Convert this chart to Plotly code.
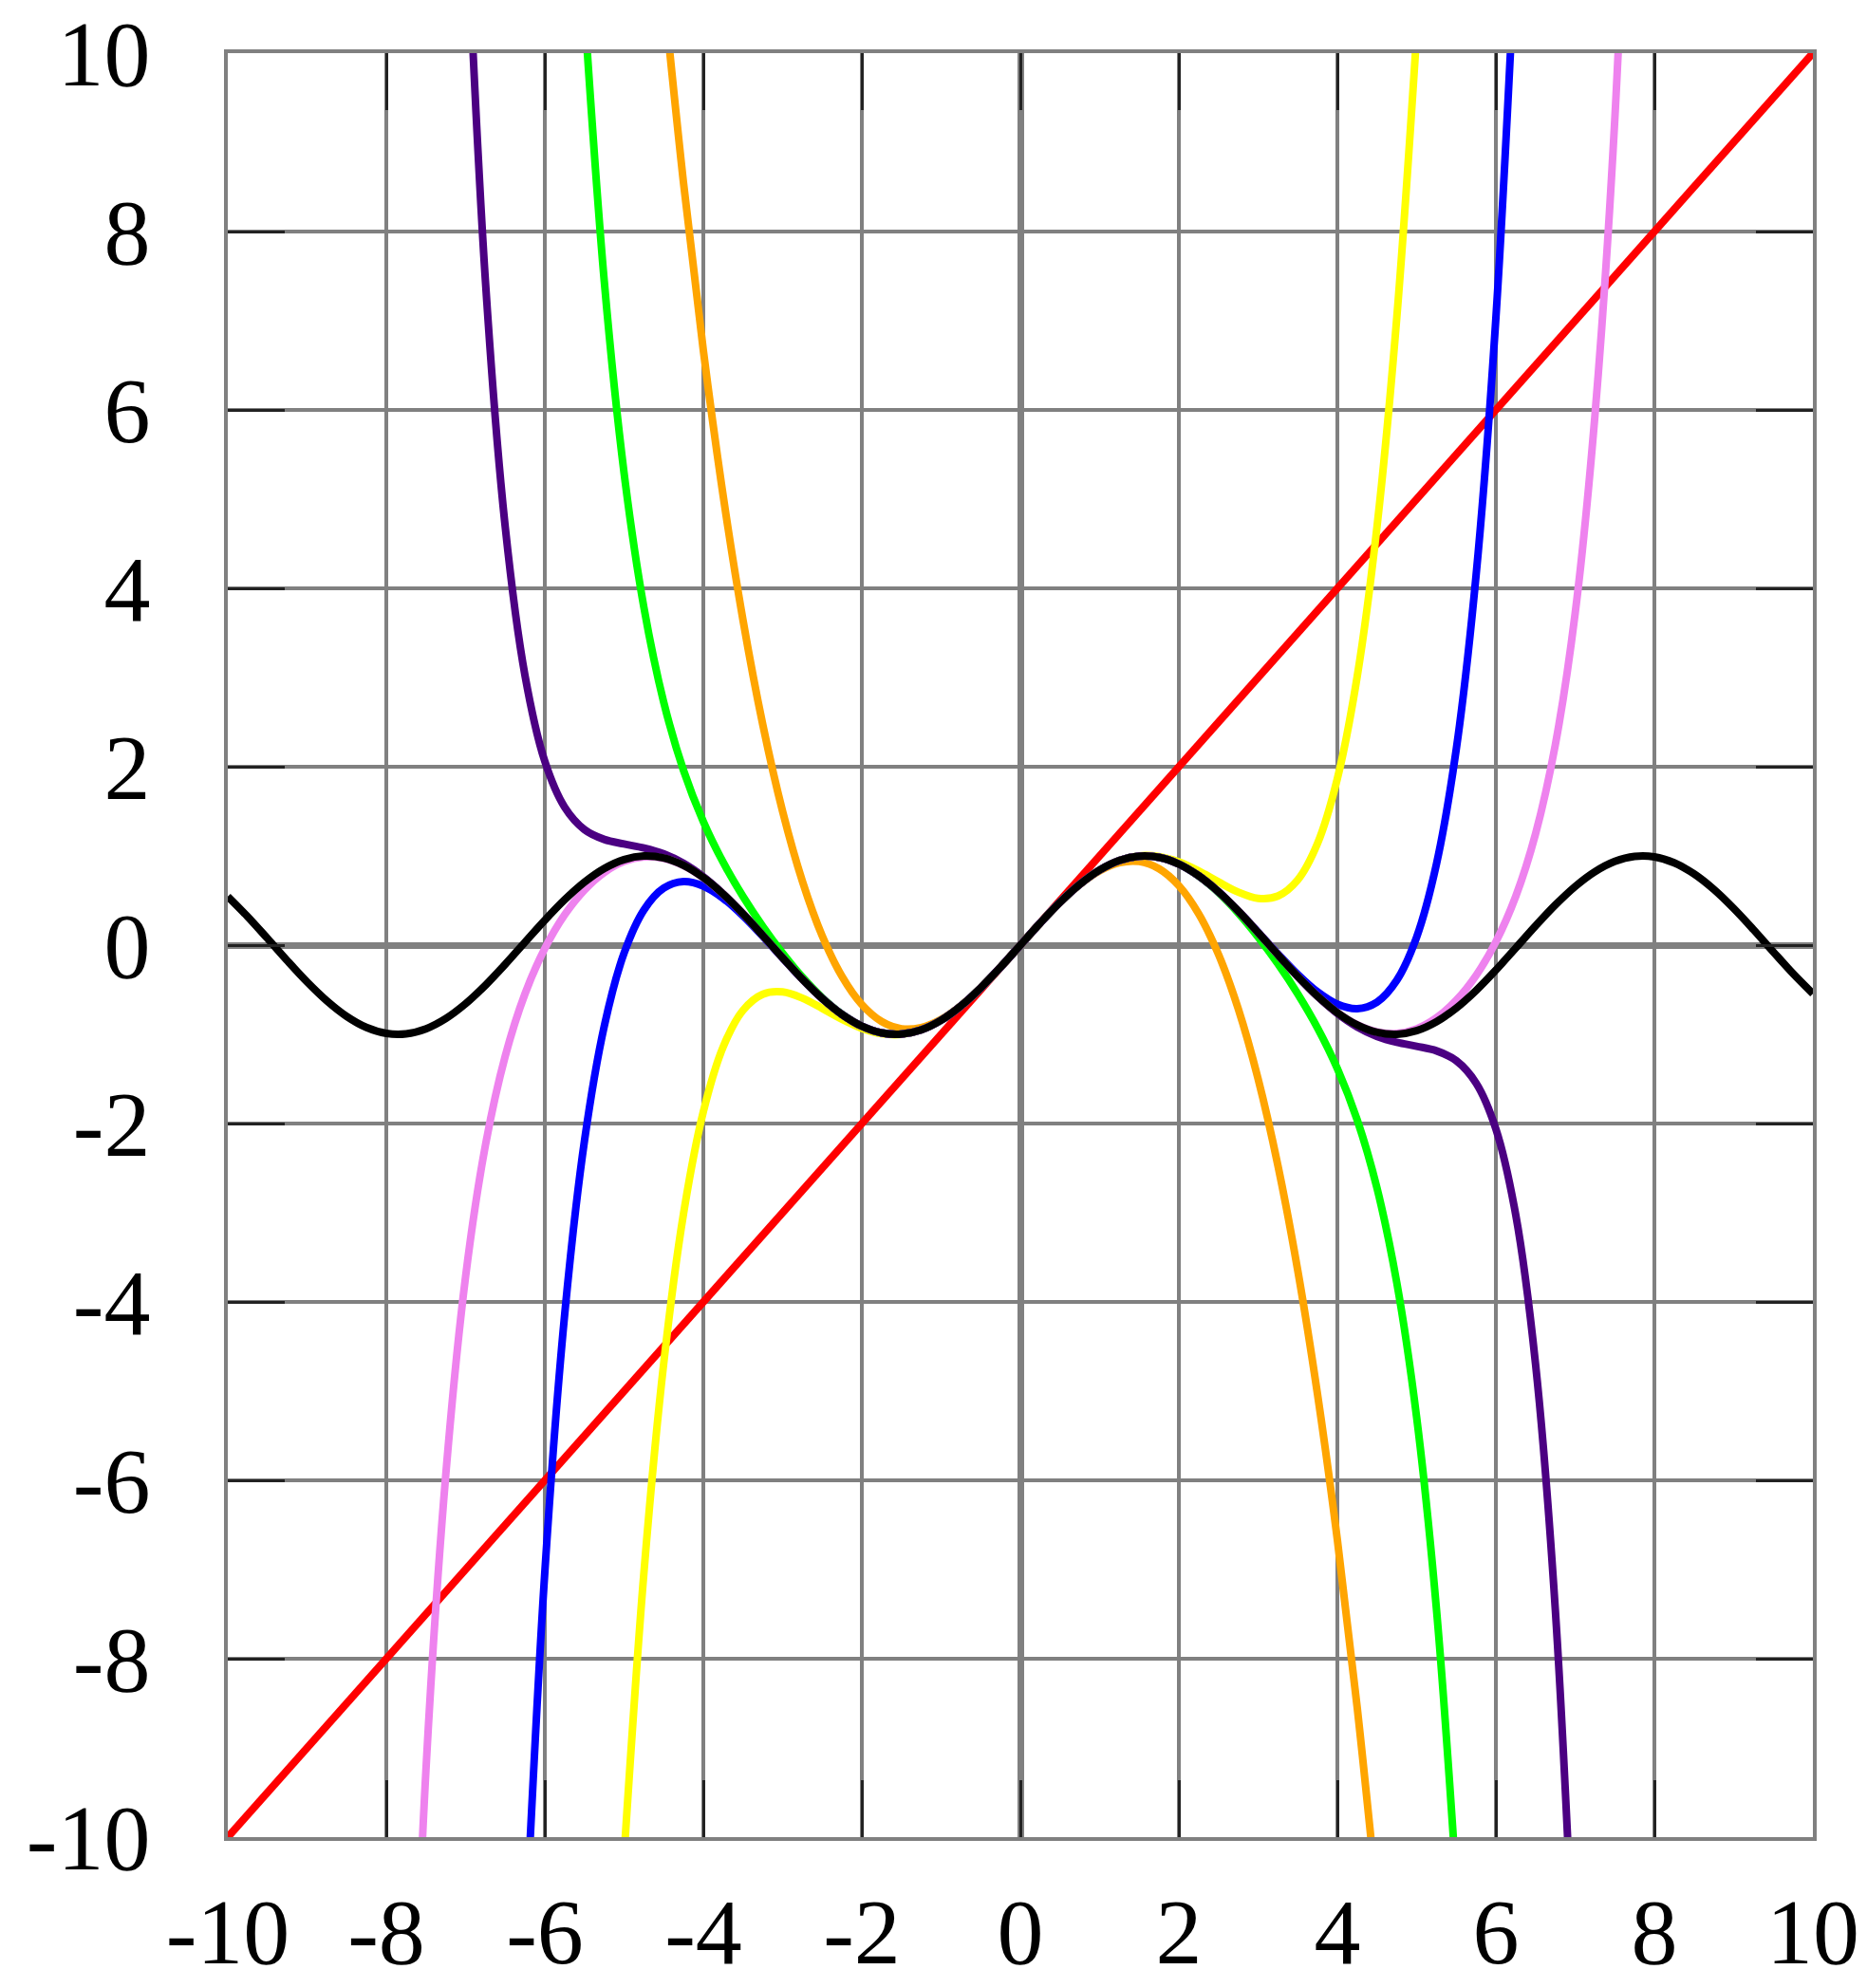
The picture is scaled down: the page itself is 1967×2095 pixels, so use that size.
import plotly.graph_objects as go

# ---- data: sin x (black) and its Taylor polynomials of degree 1..13 ----
x_sin = [-10, -9.75, -9.5, -9.25, -9, -8.75, -8.5, -8.25, -8, -7.75, -7.5, -7.25, -7, -6.75, -6.5, -6.25,
         -6, -5.75, -5.5, -5.25, -5, -4.75, -4.5, -4.25, -4, -3.75, -3.5, -3.25, -3, -2.75, -2.5, -2.25,
         -2, -1.75, -1.5, -1.25, -1, -0.75, -0.5, -0.25, 0,
         0.25, 0.5, 0.75, 1, 1.25, 1.5, 1.75, 2, 2.25, 2.5, 2.75, 3, 3.25, 3.5, 3.75, 4, 4.25, 4.5, 4.75,
         5, 5.25, 5.5, 5.75, 6, 6.25, 6.5, 6.75, 7, 7.25, 7.5, 7.75, 8, 8.25, 8.5, 8.75, 9, 9.25, 9.5, 9.75, 10]
y_sin = [0.5440, 0.3195, 0.0752, -0.1743, -0.4121, -0.6247, -0.7985, -0.9231, -0.9894, -0.9946, -0.9380,
         -0.8231, -0.6570, -0.4500, -0.2151, 0.0332, 0.2794, 0.5083, 0.7055, 0.8589, 0.9589, 0.9993, 0.9775,
         0.8950, 0.7568, 0.5716, 0.3508, 0.1082, -0.1411, -0.3817, -0.5985, -0.7781, -0.9093, -0.9840,
         -0.9975, -0.9490, -0.8415, -0.6816, -0.4794, -0.2474, 0,
         0.2474, 0.4794, 0.6816, 0.8415, 0.9490, 0.9975, 0.9840, 0.9093, 0.7781, 0.5985, 0.3817, 0.1411,
         -0.1082, -0.3508, -0.5716, -0.7568, -0.8950, -0.9775, -0.9993, -0.9589, -0.8589, -0.7055, -0.5083,
         -0.2794, -0.0332, 0.2151, 0.4500, 0.6570, 0.8231, 0.9380, 0.9946, 0.9894, 0.9231, 0.7985, 0.6247,
         0.4121, 0.1743, -0.0752, -0.3195, -0.5440]

x_t1 = [-10, 10]
y_t1 = [-10, 10]

x_t3 = [-4.5, -4.25, -4, -3.75, -3.5, -3.25, -3, -2.75, -2.5, -2.25, -2, -1.75, -1.5, -1.25, -1, -0.75,
        -0.5, -0.25, 0, 0.25, 0.5, 0.75, 1, 1.25, 1.5, 1.75, 2, 2.25, 2.5, 2.75, 3, 3.25, 3.5, 3.75, 4,
        4.25, 4.5]
y_t3 = [10.6875, 8.5443, 6.6667, 5.0391, 3.6458, 2.4714, 1.5, 0.7161, 0.1042, -0.3516, -0.6667, -0.8568,
        -0.9375, -0.9245, -0.8333, -0.6797, -0.4792, -0.2474, 0,
        0.2474, 0.4792, 0.6797, 0.8333, 0.9245, 0.9375, 0.8568, 0.6667, 0.3516, -0.1042, -0.7161, -1.5,
        -2.4714, -3.6458, -5.0391, -6.6667, -8.5443, -10.6875]

x_t5 = [-5, -4.75, -4.5, -4.25, -4, -3.75, -3.5, -3.25, -3, -2.75, -2.5, -2.25, -2, -1.75, -1.5, -1.25,
        -1, -0.75, -0.5, -0.25, 0, 0.25, 0.5, 0.75, 1, 1.25, 1.5, 1.75, 2, 2.25, 2.5, 2.75, 3, 3.25, 3.5,
        3.75, 4, 4.25, 4.5, 4.75, 5]
y_t5 = [-10.2083, -7.0386, -4.6898, -3.0105, -1.8667, -1.1407, -0.7310, -0.5502, -0.525, -0.5945, -0.7096,
        -0.8321, -0.9333, -0.9935, -1.0008, -0.9499, -0.8417, -0.6817, -0.4794, -0.2474, 0,
        0.2474, 0.4794, 0.6817, 0.8417, 0.9499, 1.0008, 0.9935, 0.9333, 0.8321, 0.7096, 0.5945, 0.525,
        0.5502, 0.7310, 1.1407, 1.8667, 3.0105, 4.6898, 7.0386, 10.2083]

x_t7 = [-5.5, -5.25, -5, -4.75, -4.5, -4.25, -4, -3.75, -3.5, -3.25, -3, -2.75, -2.5, -2.25, -2, -1.75,
        -1.5, -1.25, -1, -0.75, -0.5, -0.25, 0, 0.25, 0.5, 0.75, 1, 1.25, 1.5, 1.75, 2, 2.25, 2.5, 2.75,
        3, 3.25, 3.5, 3.75, 4, 4.25, 4.5, 4.75, 5, 5.25, 5.5]
y_t7 = [10.496, 7.4422, 5.2927, 3.7863, 2.7243, 1.9588, 1.3841, 0.9284, 0.5456, 0.2097, -0.0911, -0.3585,
        -0.5885, -0.7742, -0.9079, -0.9836, -0.9974, -0.9490, -0.8415, -0.6816, -0.4794, -0.2474, 0,
        0.2474, 0.4794, 0.6816, 0.8415, 0.9490, 0.9974, 0.9836, 0.9079, 0.7742, 0.5885, 0.3585, 0.0911,
        -0.2097, -0.5456, -0.9284, -1.3841, -1.9588, -2.7243, -3.7863, -5.2927, -7.4422, -10.496]

x_t9 = [-6.25, -6, -5.75, -5.5, -5.25, -5, -4.75, -4.5, -4.25, -4, -3.75, -3.5, -3.25, -3, -2.75, -2.5,
        -2.25, -2, -1.75, -1.5, -1.25, -1, -0.75, -0.5, -0.25, 0, 0.25, 0.5, 0.75, 1, 1.25, 1.5, 1.75, 2,
        2.25, 2.5, 2.75, 3, 3.25, 3.5, 3.75, 4, 4.25, 4.5, 4.75, 5, 5.25, 5.5, 5.75, 6, 6.25]
y_t9 = [-11.22, -7.029, -4.145, -2.195, -0.9075, -0.0895, 0.3941, 0.6391, 0.7122, 0.6617, 0.5243, 0.3284,
        0.0982, -0.1453, -0.3833, -0.5990, -0.7783, -0.9093, -0.9840, -0.9975, -0.9490, -0.8415, -0.6816,
        -0.4794, -0.2474, 0,
        0.2474, 0.4794, 0.6816, 0.8415, 0.9490, 0.9975, 0.9840, 0.9093, 0.7783, 0.5990, 0.3833, 0.1453,
        -0.0982, -0.3284, -0.5243, -0.6617, -0.7122, -0.6391, -0.3941, 0.0895, 0.9075, 2.195, 4.145, 7.029,
        11.22]

x_t11 = [-7, -6.75, -6.5, -6.25, -6, -5.75, -5.5, -5.25, -5, -4.75, -4.5, -4.25, -4, -3.75, -3.5, -3.25,
         -3, -2.75, -2.5, -2.25, -2, -1.75, -1.5, -1.25, -1, -0.75, -0.5, -0.25, 0, 0.25, 0.5, 0.75, 1,
         1.25, 1.5, 1.75, 2, 2.25, 2.5, 2.75, 3, 3.25, 3.5, 3.75, 4, 4.25, 4.5, 4.75, 5, 5.25, 5.5, 5.75,
         6, 6.25, 6.5, 6.75, 7]
y_t11 = [11.842, 7.452, 4.692, 3.021, 2.060, 1.546, 1.295, 1.1847, 1.1337, 1.0899, 1.0230, 0.9169, 0.7668,
         0.5759, 0.3526, 0.1089, -0.1409, -0.3816, -0.5984, -0.7781, -0.9093, -0.9840, -0.9975, -0.9490,
         -0.8415, -0.6816, -0.4794, -0.2474, 0,
         0.2474, 0.4794, 0.6816, 0.8415, 0.9490, 0.9975, 0.9840, 0.9093, 0.7781, 0.5984, 0.3816, 0.1409,
         -0.1089, -0.3526, -0.5759, -0.7668, -0.9169, -1.0230, -1.0899, -1.1337, -1.1847, -1.295, -1.546,
         -2.060, -3.021, -4.692, -7.452, -11.842]

x_t13 = [-7.75, -7.5, -7.25, -7, -6.75, -6.5, -6.25, -6, -5.75, -5.5, -5.25, -5, -4.75, -4.5, -4.25, -4,
         -3.75, -3.5, -3.25, -3, -2.75, -2.5, -2.25, -2, -1.75, -1.5, -1.25, -1, -0.75, -0.5, -0.25, 0,
         0.25, 0.5, 0.75, 1, 1.25, 1.5, 1.75, 2, 2.25, 2.5, 2.75, 3, 3.25, 3.5, 3.75, 4, 4.25, 4.5, 4.75,
         5, 5.25, 5.5, 5.75, 6, 6.25, 6.5, 6.75, 7, 7.25, 7.5, 7.75]
y_t13 = [-14.581, -9.25, -5.941, -3.718, -2.246, -1.246, -0.545, -0.0376, 0.340, 0.618, 0.8150, 0.9377,
         0.9893, 0.9732, 0.8932, 0.7560, 0.5713, 0.3507, 0.1082, -0.1411, -0.3817, -0.5985, -0.7781,
         -0.9093, -0.9840, -0.9975, -0.9490, -0.8415, -0.6816, -0.4794, -0.2474, 0,
         0.2474, 0.4794, 0.6816, 0.8415, 0.9490, 0.9975, 0.9840, 0.9093, 0.7781, 0.5985, 0.3817, 0.1411,
         -0.1082, -0.3507, -0.5713, -0.7560, -0.8932, -0.9732, -0.9893, -0.9377, -0.8150, -0.618, -0.340,
         0.0376, 0.545, 1.246, 2.246, 3.718, 5.941, 9.25, 14.581]

tick_vals = [-10, -8, -6, -4, -2, 0, 2, 4, 6, 8, 10]
tick_text = ["-10", "-8", "-6", "-4", "-2", "0", "2", "4", "6", "8", "10"]

series = [
    (x_t1, y_t1, "#FF0000"),
    (x_t3, y_t3, "#FFA500"),
    (x_t5, y_t5, "#FFFF00"),
    (x_t7, y_t7, "#00FF00"),
    (x_t9, y_t9, "#0000FF"),
    (x_t11, y_t11, "#4B0082"),
    (x_t13, y_t13, "#EE82EE"),
    (x_sin, y_sin, "#000000"),
]

fig = go.Figure()
for xs, ys, col in series:
    fig.add_trace(go.Scatter(x=xs, y=ys, mode="lines",
                             line=dict(color=col, width=8, shape="spline", smoothing=1.0),
                             hoverinfo="skip"))

axis_common = dict(
    range=[-10, 10],
    tickmode="array",
    tickvals=tick_vals,
    ticktext=tick_text,
    showgrid=True,
    gridcolor="#808080",
    gridwidth=4,
    zeroline=True,
    zerolinecolor="#808080",
    zerolinewidth=7,
    showline=True,
    linecolor="#808080",
    linewidth=4,
    mirror="ticks",
    ticks="inside",
    ticklen=60,
    tickwidth=3,
    tickcolor="#222222",
    tickfont=dict(family="Liberation Serif", size=98, color="#000000"),
    ticklabeloverflow="allow",
    automargin=False,
    fixedrange=True,
)

fig.update_xaxes(**axis_common, ticklabelstandoff=11)
fig.update_yaxes(**axis_common, ticklabelstandoff=58)

fig.update_layout(
    width=1967,
    height=2095,
    margin=dict(l=240, r=57, t=56, b=159),
    plot_bgcolor="white",
    paper_bgcolor="white",
    showlegend=False,
)

# remove the default 8 px page margin so the figure fills the window exactly
fig.write_html("out.html",
               config={"displayModeBar": False},
               post_script="document.body.style.margin='0px';document.body.style.overflow='hidden';")
